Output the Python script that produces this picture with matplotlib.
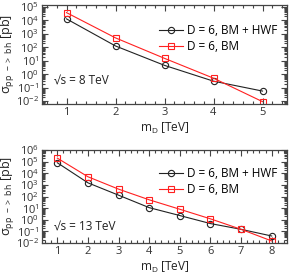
import math
import matplotlib
matplotlib.use('Agg')
import matplotlib.pyplot as plt
from matplotlib.ticker import AutoMinorLocator, LogLocator, NullFormatter

plt.rcParams['font.family'] = ['Open Sans', 'DejaVu Sans']
plt.rcParams['mathtext.default'] = 'regular'

# sqrt(s) = 8 TeV
md_8 = [1, 2, 3, 4, 5]
hwf_8 = [1.3e4, 125, 4.5, 0.3, 0.055]
bm_8 = [3.8e4, 500, 15, 0.5, 0.009]

# sqrt(s) = 13 TeV
md_13 = [1, 2, 3, 4, 5, 6, 7, 8]
hwf_13 = [8e4, 1.5e3, 130, 11, 2.3, 0.47, 0.15, 0.04]
bm_13 = [2e5, 5e3, 430, 52, 8, 1.2, 0.15, 0.015]

label_hwf = 'D = 6, BM + HWF'
label_bm = 'D = 6, BM'

W, H = 297, 279
fig = plt.figure(figsize=(W / 100, H / 100), dpi=100)


def px_axes(x0, y0, x1, y1):
    return fig.add_axes([x0 / W, 1 - y1 / H, (x1 - x0) / W, (y1 - y0) / H])


def style(ax, xmax, ylim, yticks):
    ax.set_yscale('log')
    ax.set_xlim(0.5, xmax + 0.5)
    ax.set_ylim(*ylim)
    ax.set_xticks(range(1, xmax + 1))
    ax.set_yticks(yticks)
    ax.set_yticklabels(['$10^{%d}$' % round(math.log10(t)) for t in yticks])
    ax.xaxis.set_minor_locator(AutoMinorLocator(5))
    ax.yaxis.set_minor_locator(LogLocator(base=10, subs=range(2, 10), numticks=20))
    ax.yaxis.set_minor_formatter(NullFormatter())
    ax.tick_params(which='both', direction='in', top=True, right=True,
                   colors='#444444', labelcolor='#333333', width=0.8)
    ax.tick_params(which='major', length=4, labelsize=8, pad=2)
    ax.tick_params(which='minor', length=2)
    for s in ax.spines.values():
        s.set_color('#444444')
        s.set_linewidth(0.9)
    ax.set_xlabel('$m_D$ [TeV]', fontsize=8.5, color='#222222', labelpad=2)
    ax.set_ylabel(r'$\sigma_{pp\ ->\ bh}$ [pb]', fontsize=9, color='#222222')
    ax.yaxis.set_label_coords(-0.1, 0.5)


def draw(ax, x, hwf, bm):
    ax.plot(x, hwf, color='#222222', lw=0.8, marker='o', ms=4.5, mfc='none', mew=0.8, label=label_hwf)
    ax.plot(x, bm, color='#ff2020', lw=0.8, marker='s', ms=4.5, mfc='none', mew=0.8, label=label_bm)


ax1 = px_axes(42, 5, 287, 104)
draw(ax1, md_8, hwf_8, bm_8)
style(ax1, 5, (6e-3, 1.4e5), [1e-2, 1e-1, 1, 10, 1e2, 1e3, 1e4, 1e5])
ax1.legend(loc='upper right', frameon=False, fontsize=8.5, handlelength=2.0,
           borderaxespad=0.4, labelspacing=0.25, handletextpad=0.4,
           bbox_to_anchor=(1.0, 0.9))
ax1.text(0.05, 0.23, '√s = 8 TeV', transform=ax1.transAxes, fontsize=8.5,
         color='#222222', va='center')

ax2 = px_axes(42, 150, 287, 243)
draw(ax2, md_13, hwf_13, bm_13)
style(ax2, 8, (1e-2, 1e6), [1e-2, 1e-1, 1, 10, 1e2, 1e3, 1e4, 1e5, 1e6])
ax2.legend(loc='upper right', frameon=False, fontsize=8.5, handlelength=2.0,
           borderaxespad=0.4, labelspacing=0.25, handletextpad=0.4,
           bbox_to_anchor=(1.0, 0.92))
ax2.text(0.05, 0.17, '√s = 13 TeV', transform=ax2.transAxes, fontsize=8.5,
         color='#222222', va='center')

fig.savefig('out.png', dpi=100)
